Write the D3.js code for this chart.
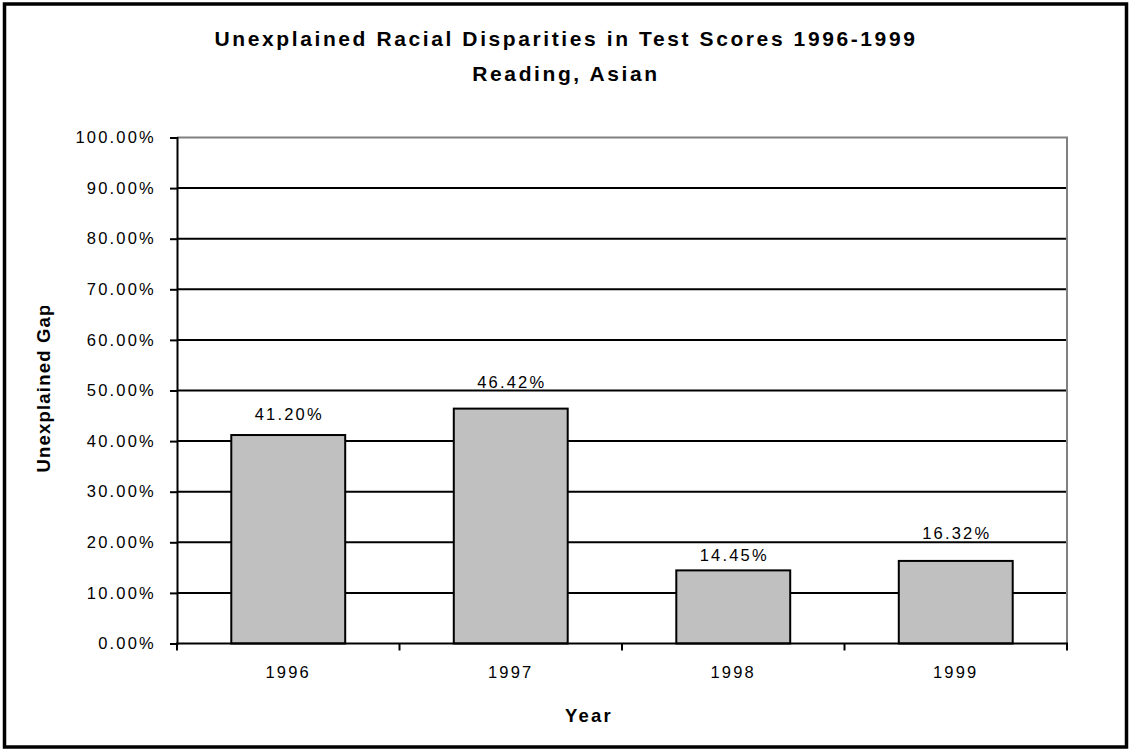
<!DOCTYPE html>
<html>
<head>
<meta charset="utf-8">
<script src="https://cdn.jsdelivr.net/npm/d3@7"></script>
<style>
  html, body { margin: 0; padding: 0; background: #fff; }
  svg { display: block; font-family: "Liberation Sans", Arial, sans-serif; }
</style>
</head>
<body>
<svg id="chart" width="1130" height="751"></svg>
<script>
// Chart data
const years = ["1996", "1997", "1998", "1999"];
const gapValues = [0.4120, 0.4642, 0.1445, 0.1632];
const yTickValues = [0, 0.1, 0.2, 0.3, 0.4, 0.5, 0.6, 0.7, 0.8, 0.9, 1.0];
const titleLines = ["Unexplained Racial Disparities in Test Scores 1996-1999", "Reading, Asian"];
const xTitle = "Year";
const yTitle = "Unexplained Gap";

const svg = d3.select("#chart");

// Plot area frame
const plot = { left: 177, right: 1067, top: 137.5, bottom: 643.5 };

const x = d3.scaleBand()
  .domain(years)
  .range([plot.left, plot.right])
  .paddingInner(0.488)
  .paddingOuter(0.244);

const y = d3.scaleLinear()
  .domain([0, 1])
  .range([plot.bottom, plot.top]);

const pct = d3.format(".2%");

// Outer chart border
svg.append("rect")
  .attr("x", 4.5).attr("y", 4)
  .attr("width", 1122).attr("height", 743)
  .attr("fill", "#fff")
  .attr("stroke", "#000")
  .attr("stroke-width", 3.5);

// Title
svg.append("g").selectAll("text")
  .data(titleLines)
  .join("text")
  .attr("x", 566)
  .attr("y", (d, i) => 46 + i * 35)
  .attr("text-anchor", "middle")
  .attr("font-weight", "bold")
  .attr("font-size", 21)
  .attr("letter-spacing", 2.6)
  .attr("fill", "#000")
  .text(d => d);

// Horizontal gridlines
const gridValues = yTickValues.filter(v => v > 0 && v < 1);
svg.append("g").selectAll("line")
  .data(gridValues)
  .join("line")
  .attr("x1", plot.left).attr("x2", plot.right)
  .attr("y1", d => y(d)).attr("y2", d => y(d))
  .attr("stroke", "#000")
  .attr("stroke-width", 2);

// Plot area border (top and right)
svg.append("path")
  .attr("d", `M${plot.left},${plot.top}H${plot.right}V${plot.bottom}`)
  .attr("fill", "none")
  .attr("stroke", "#808080")
  .attr("stroke-width", 2);

const barData = years.map((yr, i) => ({ yr, v: gapValues[i] }));

// Bars
svg.append("g").selectAll("rect")
  .data(barData)
  .join("rect")
  .attr("x", d => x(d.yr))
  .attr("y", d => y(d.v))
  .attr("width", x.bandwidth())
  .attr("height", d => y(0) - y(d.v))
  .attr("fill", "#c0c0c0")
  .attr("stroke", "#000")
  .attr("stroke-width", 2);

// Value labels sit above each bar, nudged off any gridline they would cross
const labelSize = 16.5, capH = 12;
function labelBaseline(v) {
  let base = y(v) - 15;
  for (const g of gridValues.map(y)) {
    const top = base - capH;
    if (g > top - 2 && g < base + 3) {
      const up = base - (g - 3);
      const down = (g + 7) - top;
      base = up <= down ? g - 3 : g + 7 + capH;
    }
  }
  return base;
}
svg.append("g").selectAll("text")
  .data(barData)
  .join("text")
  .attr("x", d => x(d.yr) + x.bandwidth() / 2 + 1)
  .attr("y", d => labelBaseline(d.v))
  .attr("text-anchor", "middle")
  .attr("font-size", labelSize)
  .attr("letter-spacing", 2.2)
  .attr("fill", "#000")
  .text(d => pct(d.v));

// Y axis
const yAxis = svg.append("g")
  .attr("transform", `translate(${plot.left},0)`)
  .call(d3.axisLeft(y).tickValues(yTickValues).tickFormat(pct).tickSize(7).tickPadding(14));
yAxis.select(".domain").attr("stroke", "#000").attr("stroke-width", 2);
yAxis.selectAll(".tick line").attr("stroke", "#000").attr("stroke-width", 2);
yAxis.selectAll(".tick text")
  .attr("font-family", "Liberation Sans, Arial, sans-serif")
  .attr("font-size", 16.5)
  .attr("letter-spacing", 2.2)
  .attr("fill", "#000");

// X axis: line, boundary ticks, category labels
const xAxis = svg.append("g");
xAxis.append("line")
  .attr("x1", plot.left - 1).attr("x2", plot.right + 1)
  .attr("y1", y(0)).attr("y2", y(0))
  .attr("stroke", "#000").attr("stroke-width", 2);
const boundaries = years.map(yr => x(yr) - x.step() * x.paddingInner() / 2).concat([plot.right]);
xAxis.selectAll("line.tick")
  .data(boundaries)
  .join("line")
  .attr("class", "tick")
  .attr("x1", d => d).attr("x2", d => d)
  .attr("y1", y(0)).attr("y2", y(0) + 7)
  .attr("stroke", "#000").attr("stroke-width", 2);
xAxis.selectAll("text")
  .data(years)
  .join("text")
  .attr("x", d => x(d) + x.bandwidth() / 2)
  .attr("y", 678)
  .attr("text-anchor", "middle")
  .attr("font-size", 16.5)
  .attr("letter-spacing", 2.2)
  .attr("fill", "#000")
  .text(d => d);

// Axis titles
svg.append("text")
  .attr("x", 589)
  .attr("y", 721.5)
  .attr("text-anchor", "middle")
  .attr("font-weight", "bold")
  .attr("font-size", 18.5)
  .attr("letter-spacing", 2.2)
  .attr("fill", "#000")
  .text(xTitle);

svg.append("clipPath").attr("id", "ytitle-clip")
  .append("rect").attr("x", 20).attr("y", 306).attr("width", 60).attr("height", 200);

svg.append("g")
  .attr("clip-path", "url(#ytitle-clip)")
  .append("text")
  .attr("transform", "translate(50,388) rotate(-90)")
  .attr("text-anchor", "middle")
  .attr("font-weight", "bold")
  .attr("font-size", 18.5)
  .attr("letter-spacing", 1.2)
  .attr("fill", "#000")
  .text(yTitle);
</script>
</body>
</html>
